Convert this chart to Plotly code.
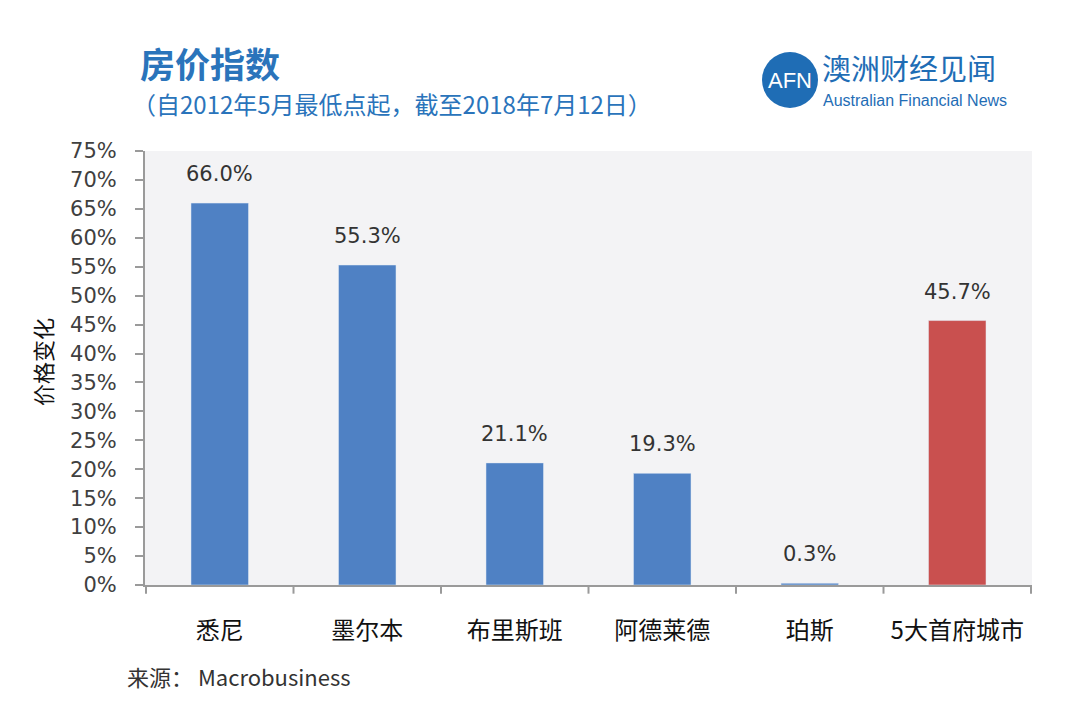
import plotly.graph_objects as go

categories = ["悉尼", "墨尔本", "布里斯班", "阿德莱德", "珀斯", "5大首府城市"]
values = [66.0, 55.3, 21.1, 19.3, 0.3, 45.7]
colors = ["#4f81c4", "#4f81c4", "#4f81c4", "#4f81c4", "#4f81c4", "#c9504f"]
labels = [f"{v:.1f}%" for v in values]
yticks = list(range(0, 80, 5))
yticklabels = [f"{t}%" for t in yticks]

FONT = "Noto Sans CJK SC"
NUMFONT = "DejaVu Sans"

# plot area in page pixels (page has an 8px body margin)
PL, PR, PT, PB = 145, 1032, 151, 585


def px(x):
    return (x - PL) / (PR - PL)


def py(y):
    return (PB - y) / (PB - PT)


fig = go.Figure(go.Bar(
    x=categories, y=values, marker_color=colors, width=0.39,
    hoverinfo="x+y",
))

fig.update_layout(
    width=1080, height=721,
    margin=dict(l=PL - 8, r=1080 - PR + 8, t=PT - 8, b=721 - PB + 8, autoexpand=False),
    paper_bgcolor="white", plot_bgcolor="#f3f3f5",
    showlegend=False,
    font=dict(family=FONT),
)
fig.update_yaxes(
    range=[0, 75], tickvals=yticks, ticktext=yticklabels,
    tickfont=dict(family=NUMFONT, size=21, color="#404040"),
    showgrid=False, zeroline=False,
    showline=True, linecolor="#9a9a9a", linewidth=2,
    ticks="outside", ticklen=8, tickcolor="#9a9a9a", tickwidth=2,
    ticklabelstandoff=14,
)
fig.update_xaxes(
    showgrid=False, showline=True, linecolor="#9a9a9a", linewidth=2,
    tickfont=dict(family=FONT, size=24, color="#111111"),
    ticks="", ticklabelstandoff=23,
)
# category boundary ticks
for i in range(len(categories) + 1):
    fig.add_shape(type="line", xref="x", yref="paper", x0=i - 0.5, x1=i - 0.5,
                  y0=0, y1=-0.02, line=dict(color="#9a9a9a", width=2))

# data labels
for c, v, t in zip(categories, values, labels):
    fig.add_annotation(x=c, y=v, text=t, showarrow=False, yanchor="bottom", xanchor="center",
                       yshift=15, font=dict(family=NUMFONT, size=21, color="#333333"))

# y-axis title
fig.add_annotation(text="价格变化", xref="paper", yref="paper", x=px(42), y=py(362),
                   textangle=-90, showarrow=False, xanchor="center", yanchor="middle",
                   font=dict(family=FONT, size=22, color="#111111"))

fig.add_annotation(text="<b>房价指数</b>", xref="paper", yref="paper", x=px(138), y=py(62),
                   xanchor="left", yanchor="middle", showarrow=False,
                   font=dict(family=FONT, size=35, color="#2a74bb"))
fig.add_annotation(text="（自2012年5月最低点起，截至2018年7月12日）", xref="paper", yref="paper",
                   x=px(130), y=py(103), xanchor="left", yanchor="middle", showarrow=False,
                   font=dict(family=FONT, size=24, color="#2a74bb"))
# logo
fig.add_shape(type="circle", xref="paper", yref="paper",
              x0=px(762), x1=px(818), y0=py(108), y1=py(52),
              fillcolor="#1f6db5", line=dict(width=0))
fig.add_annotation(text="AFN", xref="paper", yref="paper", x=px(790), y=py(80),
                   xanchor="center", yanchor="middle", showarrow=False,
                   font=dict(family="Liberation Sans", size=22, color="white"))
fig.add_annotation(text="澳洲财经见闻", xref="paper", yref="paper", x=px(821), y=py(89),
                   xanchor="left", yanchor="bottom", showarrow=False, borderpad=0,
                   font=dict(family=FONT, size=29, color="#1f6db5"))
fig.add_annotation(text="Australian Financial News", xref="paper", yref="paper", x=px(822),
                   y=py(91), xanchor="left", yanchor="top", showarrow=False, borderpad=0,
                   font=dict(family="Liberation Sans", size=16, color="#1f6db5"))
fig.add_annotation(text="来源： Macrobusiness", xref="paper", yref="paper", x=px(125),
                   y=py(676), xanchor="left", yanchor="middle", showarrow=False,
                   font=dict(family=FONT, size=22, color="#333333"))

fig.write_html("out.html")
